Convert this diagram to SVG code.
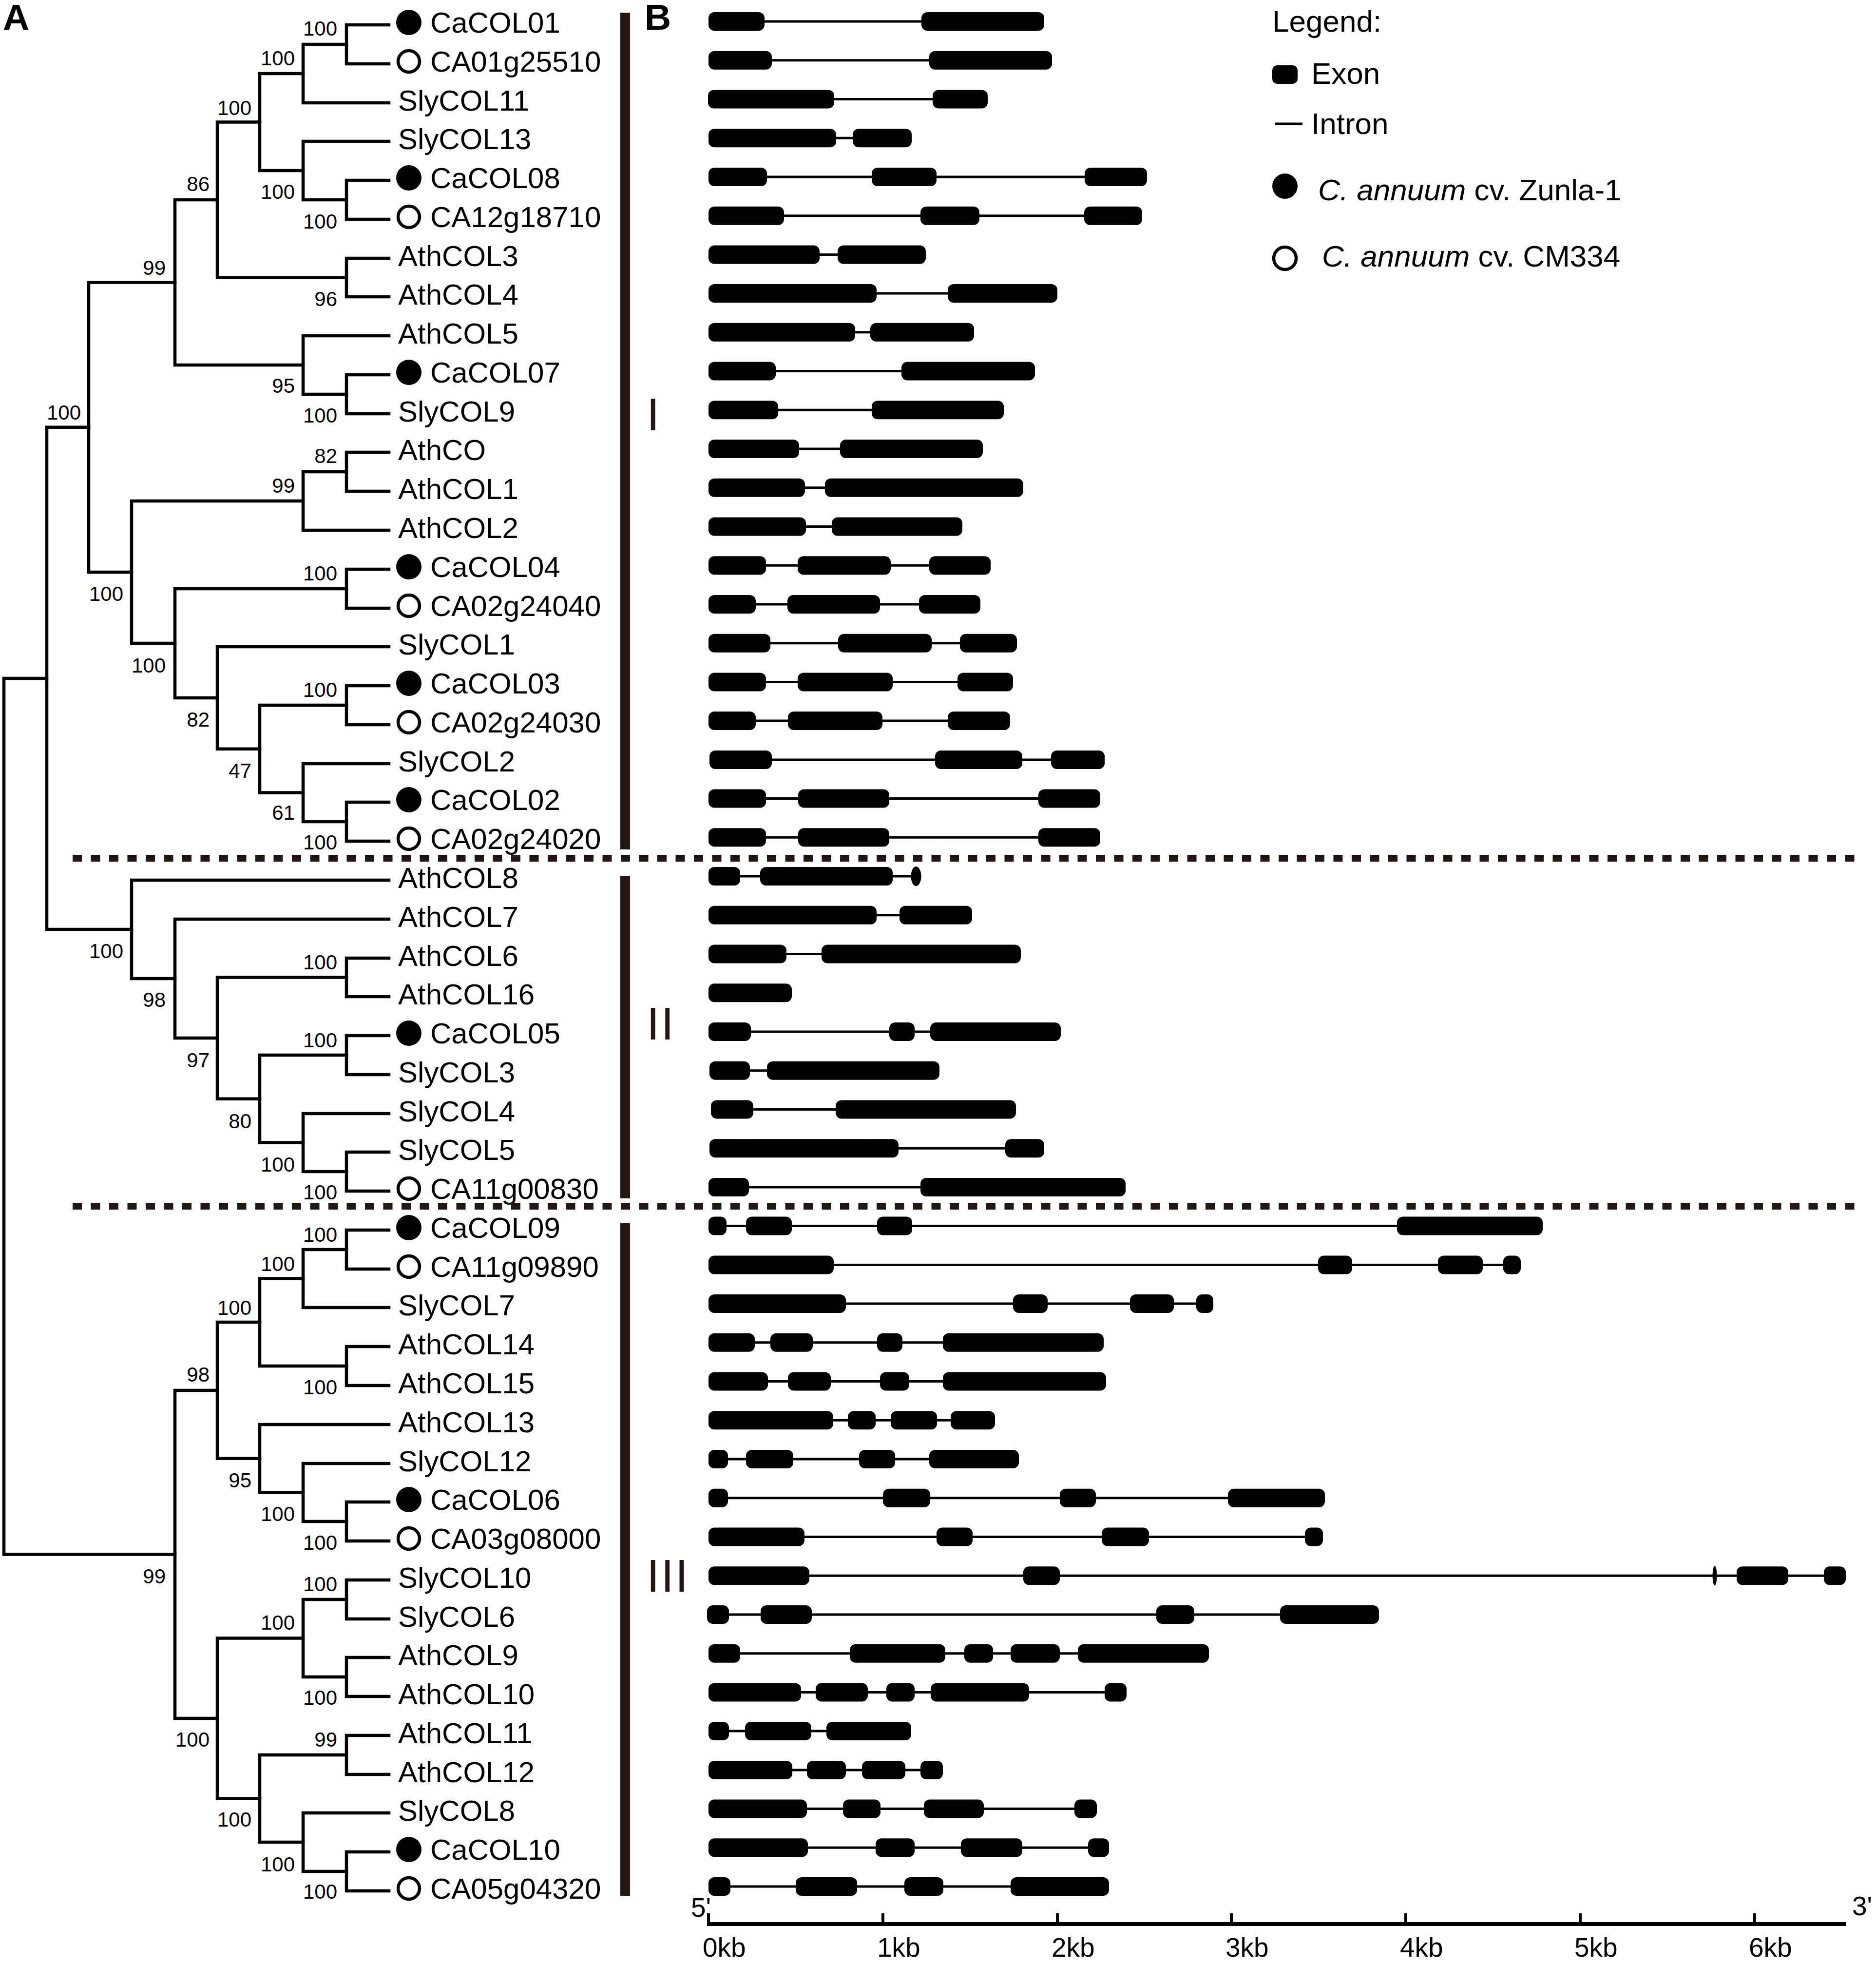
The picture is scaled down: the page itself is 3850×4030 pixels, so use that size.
<svg xmlns="http://www.w3.org/2000/svg" width="3850" height="4030" viewBox="0 0 3850 4030">
<style>
text{font-family:"Liberation Sans",Arial,sans-serif;fill:#000}
.lb{font-size:60px}
.bs{font-size:42px;text-anchor:end}
.br{fill:none;stroke:#000;stroke-width:6.5;stroke-linecap:square;stroke-linejoin:miter}
.f{fill:#000}
.o{fill:#fff;stroke:#000;stroke-width:6.5}
.ex{fill:#000}
.in{stroke:#000;stroke-width:5}
.dash{stroke:#231815;stroke-width:14;stroke-dasharray:19 18.5}
.bar{fill:#231815}
.rn{font-size:95px;letter-spacing:3px;fill:#231815}
.ax{stroke:#000;stroke-width:8}
.tick{stroke:#000;stroke-width:6;fill:none}
.tk{font-size:55px}
.lg{font-size:62px}
.it{font-style:italic}
.pl{font-size:75px;font-weight:bold}
</style>
<rect width="3850" height="4030" fill="#fff"/>
<text class="pl" x="6" y="61">A</text>
<text class="pl" x="1323" y="61">B</text>

<g id="connectors">
<path class="br" d="M798 51H711V131H798"/>
<path class="br" d="M711 91H622V211H798"/>
<path class="br" d="M798 370H711V450H798"/>
<path class="br" d="M798 290H622V410H711"/>
<path class="br" d="M622 151H533V350H622"/>
<path class="br" d="M798 530H711V609H798"/>
<path class="br" d="M533 250.5H446V569.5H711"/>
<path class="br" d="M798 769H711V849H798"/>
<path class="br" d="M798 689H622V809H711"/>
<path class="br" d="M446 410H359V749H622"/>
<path class="br" d="M798 928H711V1008H798"/>
<path class="br" d="M711 968H622V1088H798"/>
<path class="br" d="M798 1168H711V1248H798"/>
<path class="br" d="M798 1407H711V1487H798"/>
<path class="br" d="M798 1646H711V1726H798"/>
<path class="br" d="M798 1567H622V1686H711"/>
<path class="br" d="M711 1447H533V1626.5H622"/>
<path class="br" d="M798 1327H446V1536.75H533"/>
<path class="br" d="M711 1208H359V1432H446"/>
<path class="br" d="M622 1028H270V1320H359"/>
<path class="br" d="M359 579.5H182V1174H270"/>
<path class="br" d="M798 1966H711V2045H798"/>
<path class="br" d="M798 2125H711V2205H798"/>
<path class="br" d="M798 2364H711V2444H798"/>
<path class="br" d="M798 2285H622V2404H711"/>
<path class="br" d="M711 2165H533V2344.5H622"/>
<path class="br" d="M711 2005.5H446V2254.75H533"/>
<path class="br" d="M798 1886H359V2130H446"/>
<path class="br" d="M798 1806H270V2008H359"/>
<path class="br" d="M182 876.75H96V1907H270"/>
<path class="br" d="M798 2524H711V2604H798"/>
<path class="br" d="M711 2564H622V2683H798"/>
<path class="br" d="M798 2763H711V2843H798"/>
<path class="br" d="M622 2623.5H533V2803H711"/>
<path class="br" d="M798 3082H711V3162H798"/>
<path class="br" d="M798 3003H622V3122H711"/>
<path class="br" d="M798 2923H533V3062.5H622"/>
<path class="br" d="M533 2713H446V2992.75H533"/>
<path class="br" d="M798 3242H711V3322H798"/>
<path class="br" d="M798 3401H711V3481H798"/>
<path class="br" d="M711 3282H622V3441H711"/>
<path class="br" d="M798 3561H711V3641H798"/>
<path class="br" d="M798 3800H711V3880H798"/>
<path class="br" d="M798 3720H622V3840H711"/>
<path class="br" d="M711 3601H533V3780H622"/>
<path class="br" d="M622 3361.5H446V3690.5H533"/>
<path class="br" d="M446 2853H359V3526H446"/>
<path class="br" d="M96 1392H8V3189.5H359"/>
</g>

<g id="bootstrap">
<text class="bs" x="692" y="73">100</text>
<text class="bs" x="605" y="134">100</text>
<text class="bs" x="516" y="236">100</text>
<text class="bs" x="430" y="392">86</text>
<text class="bs" x="605" y="408">100</text>
<text class="bs" x="692" y="469">100</text>
<text class="bs" x="340" y="564">99</text>
<text class="bs" x="692" y="628">96</text>
<text class="bs" x="605" y="806">95</text>
<text class="bs" x="692" y="867">100</text>
<text class="bs" x="166" y="861">100</text>
<text class="bs" x="692" y="950">82</text>
<text class="bs" x="605" y="1011">99</text>
<text class="bs" x="253" y="1233">100</text>
<text class="bs" x="692" y="1191">100</text>
<text class="bs" x="340" y="1380">100</text>
<text class="bs" x="430" y="1491">82</text>
<text class="bs" x="516" y="1596">47</text>
<text class="bs" x="692" y="1430">100</text>
<text class="bs" x="605" y="1682">61</text>
<text class="bs" x="692" y="1743">100</text>
<text class="bs" x="253" y="1966">100</text>
<text class="bs" x="340" y="2066">98</text>
<text class="bs" x="692" y="1989">100</text>
<text class="bs" x="430" y="2190">97</text>
<text class="bs" x="516" y="2315">80</text>
<text class="bs" x="692" y="2149">100</text>
<text class="bs" x="605" y="2404">100</text>
<text class="bs" x="692" y="2461">100</text>
<text class="bs" x="692" y="2548">100</text>
<text class="bs" x="605" y="2608">100</text>
<text class="bs" x="516" y="2698">100</text>
<text class="bs" x="692" y="2861">100</text>
<text class="bs" x="430" y="2835">98</text>
<text class="bs" x="516" y="3052">95</text>
<text class="bs" x="605" y="3121">100</text>
<text class="bs" x="692" y="3180">100</text>
<text class="bs" x="340" y="3249">99</text>
<text class="bs" x="430" y="3584">100</text>
<text class="bs" x="605" y="3344">100</text>
<text class="bs" x="692" y="3265">100</text>
<text class="bs" x="692" y="3498">100</text>
<text class="bs" x="692" y="3584">99</text>
<text class="bs" x="516" y="3748">100</text>
<text class="bs" x="605" y="3840">100</text>
<text class="bs" x="692" y="3896">100</text>
</g>

<g id="leaves">
<g id="leaf-CaCOL01" transform="translate(0,51)"><circle class="f" cx="839" cy="-5" r="26"/><text class="lb" x="883" y="16">CaCOL01</text></g>
<g id="leaf-CA01g25510" transform="translate(0,131)"><circle class="o" cx="839" cy="-5" r="22"/><text class="lb" x="883" y="16">CA01g25510</text></g>
<g id="leaf-SlyCOL11" transform="translate(0,211)"><text class="lb" x="817" y="16">SlyCOL11</text></g>
<g id="leaf-SlyCOL13" transform="translate(0,290)"><text class="lb" x="817" y="16">SlyCOL13</text></g>
<g id="leaf-CaCOL08" transform="translate(0,370)"><circle class="f" cx="839" cy="-5" r="26"/><text class="lb" x="883" y="16">CaCOL08</text></g>
<g id="leaf-CA12g18710" transform="translate(0,450)"><circle class="o" cx="839" cy="-5" r="22"/><text class="lb" x="883" y="16">CA12g18710</text></g>
<g id="leaf-AthCOL3" transform="translate(0,530)"><text class="lb" x="817" y="16">AthCOL3</text></g>
<g id="leaf-AthCOL4" transform="translate(0,609)"><text class="lb" x="817" y="16">AthCOL4</text></g>
<g id="leaf-AthCOL5" transform="translate(0,689)"><text class="lb" x="817" y="16">AthCOL5</text></g>
<g id="leaf-CaCOL07" transform="translate(0,769)"><circle class="f" cx="839" cy="-5" r="26"/><text class="lb" x="883" y="16">CaCOL07</text></g>
<g id="leaf-SlyCOL9" transform="translate(0,849)"><text class="lb" x="817" y="16">SlyCOL9</text></g>
<g id="leaf-AthCO" transform="translate(0,928)"><text class="lb" x="817" y="16">AthCO</text></g>
<g id="leaf-AthCOL1" transform="translate(0,1008)"><text class="lb" x="817" y="16">AthCOL1</text></g>
<g id="leaf-AthCOL2" transform="translate(0,1088)"><text class="lb" x="817" y="16">AthCOL2</text></g>
<g id="leaf-CaCOL04" transform="translate(0,1168)"><circle class="f" cx="839" cy="-5" r="26"/><text class="lb" x="883" y="16">CaCOL04</text></g>
<g id="leaf-CA02g24040" transform="translate(0,1248)"><circle class="o" cx="839" cy="-5" r="22"/><text class="lb" x="883" y="16">CA02g24040</text></g>
<g id="leaf-SlyCOL1" transform="translate(0,1327)"><text class="lb" x="817" y="16">SlyCOL1</text></g>
<g id="leaf-CaCOL03" transform="translate(0,1407)"><circle class="f" cx="839" cy="-5" r="26"/><text class="lb" x="883" y="16">CaCOL03</text></g>
<g id="leaf-CA02g24030" transform="translate(0,1487)"><circle class="o" cx="839" cy="-5" r="22"/><text class="lb" x="883" y="16">CA02g24030</text></g>
<g id="leaf-SlyCOL2" transform="translate(0,1567)"><text class="lb" x="817" y="16">SlyCOL2</text></g>
<g id="leaf-CaCOL02" transform="translate(0,1646)"><circle class="f" cx="839" cy="-5" r="26"/><text class="lb" x="883" y="16">CaCOL02</text></g>
<g id="leaf-CA02g24020" transform="translate(0,1726)"><circle class="o" cx="839" cy="-5" r="22"/><text class="lb" x="883" y="16">CA02g24020</text></g>
<g id="leaf-AthCOL8" transform="translate(0,1806)"><text class="lb" x="817" y="16">AthCOL8</text></g>
<g id="leaf-AthCOL7" transform="translate(0,1886)"><text class="lb" x="817" y="16">AthCOL7</text></g>
<g id="leaf-AthCOL6" transform="translate(0,1966)"><text class="lb" x="817" y="16">AthCOL6</text></g>
<g id="leaf-AthCOL16" transform="translate(0,2045)"><text class="lb" x="817" y="16">AthCOL16</text></g>
<g id="leaf-CaCOL05" transform="translate(0,2125)"><circle class="f" cx="839" cy="-5" r="26"/><text class="lb" x="883" y="16">CaCOL05</text></g>
<g id="leaf-SlyCOL3" transform="translate(0,2205)"><text class="lb" x="817" y="16">SlyCOL3</text></g>
<g id="leaf-SlyCOL4" transform="translate(0,2285)"><text class="lb" x="817" y="16">SlyCOL4</text></g>
<g id="leaf-SlyCOL5" transform="translate(0,2364)"><text class="lb" x="817" y="16">SlyCOL5</text></g>
<g id="leaf-CA11g00830" transform="translate(0,2444)"><circle class="o" cx="839" cy="-5" r="22"/><text class="lb" x="883" y="16">CA11g00830</text></g>
<g id="leaf-CaCOL09" transform="translate(0,2524)"><circle class="f" cx="839" cy="-5" r="26"/><text class="lb" x="883" y="16">CaCOL09</text></g>
<g id="leaf-CA11g09890" transform="translate(0,2604)"><circle class="o" cx="839" cy="-5" r="22"/><text class="lb" x="883" y="16">CA11g09890</text></g>
<g id="leaf-SlyCOL7" transform="translate(0,2683)"><text class="lb" x="817" y="16">SlyCOL7</text></g>
<g id="leaf-AthCOL14" transform="translate(0,2763)"><text class="lb" x="817" y="16">AthCOL14</text></g>
<g id="leaf-AthCOL15" transform="translate(0,2843)"><text class="lb" x="817" y="16">AthCOL15</text></g>
<g id="leaf-AthCOL13" transform="translate(0,2923)"><text class="lb" x="817" y="16">AthCOL13</text></g>
<g id="leaf-SlyCOL12" transform="translate(0,3003)"><text class="lb" x="817" y="16">SlyCOL12</text></g>
<g id="leaf-CaCOL06" transform="translate(0,3082)"><circle class="f" cx="839" cy="-5" r="26"/><text class="lb" x="883" y="16">CaCOL06</text></g>
<g id="leaf-CA03g08000" transform="translate(0,3162)"><circle class="o" cx="839" cy="-5" r="22"/><text class="lb" x="883" y="16">CA03g08000</text></g>
<g id="leaf-SlyCOL10" transform="translate(0,3242)"><text class="lb" x="817" y="16">SlyCOL10</text></g>
<g id="leaf-SlyCOL6" transform="translate(0,3322)"><text class="lb" x="817" y="16">SlyCOL6</text></g>
<g id="leaf-AthCOL9" transform="translate(0,3401)"><text class="lb" x="817" y="16">AthCOL9</text></g>
<g id="leaf-AthCOL10" transform="translate(0,3481)"><text class="lb" x="817" y="16">AthCOL10</text></g>
<g id="leaf-AthCOL11" transform="translate(0,3561)"><text class="lb" x="817" y="16">AthCOL11</text></g>
<g id="leaf-AthCOL12" transform="translate(0,3641)"><text class="lb" x="817" y="16">AthCOL12</text></g>
<g id="leaf-SlyCOL8" transform="translate(0,3720)"><text class="lb" x="817" y="16">SlyCOL8</text></g>
<g id="leaf-CaCOL10" transform="translate(0,3800)"><circle class="f" cx="839" cy="-5" r="26"/><text class="lb" x="883" y="16">CaCOL10</text></g>
<g id="leaf-CA05g04320" transform="translate(0,3880)"><circle class="o" cx="839" cy="-5" r="22"/><text class="lb" x="883" y="16">CA05g04320</text></g>
</g>

<g id="clades">
<rect class="bar" x="1273" y="26" width="20" height="1717"/>
<rect class="bar" x="1273" y="1797" width="20" height="662"/>
<rect class="bar" x="1273" y="2510" width="20" height="1380"/>
<text class="rn" x="1327" y="883">I</text>
<text class="rn" x="1327" y="2133">II</text>
<text class="rn" x="1327" y="3266">III</text>
<line class="dash" x1="149" y1="1761" x2="3822" y2="1761"/>
<line class="dash" x1="149" y1="2475" x2="3822" y2="2475"/>
</g>

<g id="genes">
<g id="gene-CaCOL01" transform="translate(0,44)"><line class="in" x1="1454" x2="2143"/><rect class="ex" x="1454" y="-19" width="115" height="38" rx="12"/><rect class="ex" x="1891" y="-19" width="252" height="38" rx="12"/></g>
<g id="gene-CA01g25510" transform="translate(0,123.7)"><line class="in" x1="1454" x2="2159"/><rect class="ex" x="1454" y="-19" width="130" height="38" rx="12"/><rect class="ex" x="1907" y="-19" width="252" height="38" rx="12"/></g>
<g id="gene-SlyCOL11" transform="translate(0,203.5)"><line class="in" x1="1453" x2="2027"/><rect class="ex" x="1453" y="-19" width="259" height="38" rx="12"/><rect class="ex" x="1914" y="-19" width="113" height="38" rx="12"/></g>
<g id="gene-SlyCOL13" transform="translate(0,283.2)"><line class="in" x1="1454" x2="1871"/><rect class="ex" x="1454" y="-19" width="262" height="38" rx="12"/><rect class="ex" x="1750" y="-19" width="121" height="38" rx="12"/></g>
<g id="gene-CaCOL08" transform="translate(0,362.9)"><line class="in" x1="1454" x2="2354"/><rect class="ex" x="1454" y="-19" width="120" height="38" rx="12"/><rect class="ex" x="1789" y="-19" width="133" height="38" rx="12"/><rect class="ex" x="2226" y="-19" width="128" height="38" rx="12"/></g>
<g id="gene-CA12g18710" transform="translate(0,442.7)"><line class="in" x1="1454" x2="2344"/><rect class="ex" x="1454" y="-19" width="155" height="38" rx="12"/><rect class="ex" x="1889" y="-19" width="121" height="38" rx="12"/><rect class="ex" x="2225" y="-19" width="119" height="38" rx="12"/></g>
<g id="gene-AthCOL3" transform="translate(0,522.4)"><line class="in" x1="1454" x2="1900"/><rect class="ex" x="1454" y="-19" width="228" height="38" rx="12"/><rect class="ex" x="1719" y="-19" width="181" height="38" rx="12"/></g>
<g id="gene-AthCOL4" transform="translate(0,602.1)"><line class="in" x1="1454" x2="2170"/><rect class="ex" x="1454" y="-19" width="345" height="38" rx="12"/><rect class="ex" x="1945" y="-19" width="225" height="38" rx="12"/></g>
<g id="gene-AthCOL5" transform="translate(0,681.8)"><line class="in" x1="1454" x2="1999"/><rect class="ex" x="1454" y="-19" width="301" height="38" rx="12"/><rect class="ex" x="1786" y="-19" width="213" height="38" rx="12"/></g>
<g id="gene-CaCOL07" transform="translate(0,761.6)"><line class="in" x1="1454" x2="2124"/><rect class="ex" x="1454" y="-19" width="138" height="38" rx="12"/><rect class="ex" x="1850" y="-19" width="274" height="38" rx="12"/></g>
<g id="gene-SlyCOL9" transform="translate(0,841.3)"><line class="in" x1="1454" x2="2060"/><rect class="ex" x="1454" y="-19" width="143" height="38" rx="12"/><rect class="ex" x="1789" y="-19" width="271" height="38" rx="12"/></g>
<g id="gene-AthCO" transform="translate(0,921)"><line class="in" x1="1454" x2="2017"/><rect class="ex" x="1454" y="-19" width="186" height="38" rx="12"/><rect class="ex" x="1724" y="-19" width="293" height="38" rx="12"/></g>
<g id="gene-AthCOL1" transform="translate(0,1000.8)"><line class="in" x1="1454" x2="2100"/><rect class="ex" x="1454" y="-19" width="198" height="38" rx="12"/><rect class="ex" x="1693" y="-19" width="407" height="38" rx="12"/></g>
<g id="gene-AthCOL2" transform="translate(0,1080.5)"><line class="in" x1="1454" x2="1975"/><rect class="ex" x="1454" y="-19" width="200" height="38" rx="12"/><rect class="ex" x="1707" y="-19" width="268" height="38" rx="12"/></g>
<g id="gene-CaCOL04" transform="translate(0,1160.2)"><line class="in" x1="1454" x2="2033"/><rect class="ex" x="1454" y="-19" width="118" height="38" rx="12"/><rect class="ex" x="1637" y="-19" width="191" height="38" rx="12"/><rect class="ex" x="1907" y="-19" width="126" height="38" rx="12"/></g>
<g id="gene-CA02g24040" transform="translate(0,1240)"><line class="in" x1="1454" x2="2012"/><rect class="ex" x="1454" y="-19" width="97" height="38" rx="12"/><rect class="ex" x="1616" y="-19" width="190" height="38" rx="12"/><rect class="ex" x="1886" y="-19" width="126" height="38" rx="12"/></g>
<g id="gene-SlyCOL1" transform="translate(0,1319.7)"><line class="in" x1="1454" x2="2087"/><rect class="ex" x="1454" y="-19" width="127" height="38" rx="12"/><rect class="ex" x="1720" y="-19" width="192" height="38" rx="12"/><rect class="ex" x="1970" y="-19" width="117" height="38" rx="12"/></g>
<g id="gene-CaCOL03" transform="translate(0,1399.4)"><line class="in" x1="1454" x2="2079"/><rect class="ex" x="1454" y="-19" width="118" height="38" rx="12"/><rect class="ex" x="1637" y="-19" width="195" height="38" rx="12"/><rect class="ex" x="1965" y="-19" width="114" height="38" rx="12"/></g>
<g id="gene-CA02g24030" transform="translate(0,1479.1)"><line class="in" x1="1454" x2="2073"/><rect class="ex" x="1454" y="-19" width="97" height="38" rx="12"/><rect class="ex" x="1617" y="-19" width="194" height="38" rx="12"/><rect class="ex" x="1945" y="-19" width="128" height="38" rx="12"/></g>
<g id="gene-SlyCOL2" transform="translate(0,1558.9)"><line class="in" x1="1456" x2="2267"/><rect class="ex" x="1456" y="-19" width="128" height="38" rx="12"/><rect class="ex" x="1919" y="-19" width="179" height="38" rx="12"/><rect class="ex" x="2157" y="-19" width="110" height="38" rx="12"/></g>
<g id="gene-CaCOL02" transform="translate(0,1638.6)"><line class="in" x1="1454" x2="2258"/><rect class="ex" x="1454" y="-19" width="118" height="38" rx="12"/><rect class="ex" x="1638" y="-19" width="187" height="38" rx="12"/><rect class="ex" x="2131" y="-19" width="127" height="38" rx="12"/></g>
<g id="gene-CA02g24020" transform="translate(0,1718.3)"><line class="in" x1="1454" x2="2258"/><rect class="ex" x="1454" y="-19" width="118" height="38" rx="12"/><rect class="ex" x="1638" y="-19" width="187" height="38" rx="12"/><rect class="ex" x="2131" y="-19" width="127" height="38" rx="12"/></g>
<g id="gene-AthCOL8" transform="translate(0,1798.1)"><line class="in" x1="1454" x2="1880"/><rect class="ex" x="1454" y="-19" width="65" height="38" rx="12"/><rect class="ex" x="1560" y="-19" width="272" height="38" rx="12"/><ellipse class="ex" cx="1880" cy="0" rx="10.5" ry="20"/></g>
<g id="gene-AthCOL7" transform="translate(0,1877.8)"><line class="in" x1="1454" x2="1995"/><rect class="ex" x="1454" y="-19" width="345" height="38" rx="12"/><rect class="ex" x="1846" y="-19" width="149" height="38" rx="12"/></g>
<g id="gene-AthCOL6" transform="translate(0,1957.5)"><line class="in" x1="1454" x2="2095"/><rect class="ex" x="1454" y="-19" width="160" height="38" rx="12"/><rect class="ex" x="1686" y="-19" width="409" height="38" rx="12"/></g>
<g id="gene-AthCOL16" transform="translate(0,2037.3)"><rect class="ex" x="1454" y="-19" width="171" height="38" rx="12"/></g>
<g id="gene-CaCOL05" transform="translate(0,2117)"><line class="in" x1="1454" x2="2177"/><rect class="ex" x="1454" y="-19" width="87" height="38" rx="12"/><rect class="ex" x="1825" y="-19" width="52" height="38" rx="12"/><rect class="ex" x="1909" y="-19" width="268" height="38" rx="12"/></g>
<g id="gene-SlyCOL3" transform="translate(0,2196.7)"><line class="in" x1="1456" x2="1928"/><rect class="ex" x="1456" y="-19" width="83" height="38" rx="12"/><rect class="ex" x="1574" y="-19" width="354" height="38" rx="12"/></g>
<g id="gene-SlyCOL4" transform="translate(0,2276.4)"><line class="in" x1="1459" x2="2085"/><rect class="ex" x="1459" y="-19" width="87" height="38" rx="12"/><rect class="ex" x="1715" y="-19" width="370" height="38" rx="12"/></g>
<g id="gene-SlyCOL5" transform="translate(0,2356.2)"><line class="in" x1="1456" x2="2143"/><rect class="ex" x="1456" y="-19" width="388" height="38" rx="12"/><rect class="ex" x="2063" y="-19" width="80" height="38" rx="12"/></g>
<g id="gene-CA11g00830" transform="translate(0,2435.9)"><line class="in" x1="1454" x2="2310"/><rect class="ex" x="1454" y="-19" width="83" height="38" rx="12"/><rect class="ex" x="1889" y="-19" width="421" height="38" rx="12"/></g>
<g id="gene-CaCOL09" transform="translate(0,2515.6)"><line class="in" x1="1454" x2="3166"/><rect class="ex" x="1454" y="-19" width="37" height="38" rx="12"/><rect class="ex" x="1531" y="-19" width="94" height="38" rx="12"/><rect class="ex" x="1800" y="-19" width="72" height="38" rx="12"/><rect class="ex" x="2867" y="-19" width="299" height="38" rx="12"/></g>
<g id="gene-CA11g09890" transform="translate(0,2595.4)"><line class="in" x1="1454" x2="3121"/><rect class="ex" x="1454" y="-19" width="257" height="38" rx="12"/><rect class="ex" x="2705" y="-19" width="70" height="38" rx="12"/><rect class="ex" x="2951" y="-19" width="92" height="38" rx="12"/><rect class="ex" x="3085" y="-19" width="36" height="38" rx="12"/></g>
<g id="gene-SlyCOL7" transform="translate(0,2675.1)"><line class="in" x1="1454" x2="2490"/><rect class="ex" x="1454" y="-19" width="282" height="38" rx="12"/><rect class="ex" x="2079" y="-19" width="71" height="38" rx="12"/><rect class="ex" x="2319" y="-19" width="90" height="38" rx="12"/><rect class="ex" x="2455" y="-19" width="35" height="38" rx="12"/></g>
<g id="gene-AthCOL14" transform="translate(0,2754.8)"><line class="in" x1="1454" x2="2265"/><rect class="ex" x="1454" y="-19" width="95" height="38" rx="12"/><rect class="ex" x="1581" y="-19" width="87" height="38" rx="12"/><rect class="ex" x="1800" y="-19" width="52" height="38" rx="12"/><rect class="ex" x="1935" y="-19" width="330" height="38" rx="12"/></g>
<g id="gene-AthCOL15" transform="translate(0,2834.6)"><line class="in" x1="1454" x2="2270"/><rect class="ex" x="1454" y="-19" width="122" height="38" rx="12"/><rect class="ex" x="1617" y="-19" width="88" height="38" rx="12"/><rect class="ex" x="1806" y="-19" width="60" height="38" rx="12"/><rect class="ex" x="1935" y="-19" width="335" height="38" rx="12"/></g>
<g id="gene-AthCOL13" transform="translate(0,2914.3)"><line class="in" x1="1454" x2="2042"/><rect class="ex" x="1454" y="-19" width="256" height="38" rx="12"/><rect class="ex" x="1740" y="-19" width="57" height="38" rx="12"/><rect class="ex" x="1828" y="-19" width="95" height="38" rx="12"/><rect class="ex" x="1951" y="-19" width="91" height="38" rx="12"/></g>
<g id="gene-SlyCOL12" transform="translate(0,2994)"><line class="in" x1="1454" x2="2091"/><rect class="ex" x="1454" y="-19" width="40" height="38" rx="12"/><rect class="ex" x="1531" y="-19" width="97" height="38" rx="12"/><rect class="ex" x="1763" y="-19" width="74" height="38" rx="12"/><rect class="ex" x="1907" y="-19" width="184" height="38" rx="12"/></g>
<g id="gene-CaCOL06" transform="translate(0,3073.7)"><line class="in" x1="1454" x2="2719"/><rect class="ex" x="1454" y="-19" width="40" height="38" rx="12"/><rect class="ex" x="1812" y="-19" width="97" height="38" rx="12"/><rect class="ex" x="2175" y="-19" width="74" height="38" rx="12"/><rect class="ex" x="2520" y="-19" width="199" height="38" rx="12"/></g>
<g id="gene-CA03g08000" transform="translate(0,3153.5)"><line class="in" x1="1454" x2="2715"/><rect class="ex" x="1454" y="-19" width="197" height="38" rx="12"/><rect class="ex" x="1922" y="-19" width="74" height="38" rx="12"/><rect class="ex" x="2261" y="-19" width="97" height="38" rx="12"/><rect class="ex" x="2678" y="-19" width="37" height="38" rx="12"/></g>
<g id="gene-SlyCOL10" transform="translate(0,3233.2)"><line class="in" x1="1454" x2="3788"/><rect class="ex" x="1454" y="-19" width="207" height="38" rx="12"/><rect class="ex" x="2100" y="-19" width="75" height="38" rx="12"/><ellipse class="ex" cx="3519" cy="0" rx="4.5" ry="20"/><rect class="ex" x="3564" y="-19" width="106" height="38" rx="12"/><rect class="ex" x="3743" y="-19" width="45" height="38" rx="12"/></g>
<g id="gene-SlyCOL6" transform="translate(0,3312.9)"><line class="in" x1="1451" x2="2830"/><rect class="ex" x="1451" y="-19" width="45" height="38" rx="12"/><rect class="ex" x="1561" y="-19" width="105" height="38" rx="12"/><rect class="ex" x="2373" y="-19" width="78" height="38" rx="12"/><rect class="ex" x="2627" y="-19" width="203" height="38" rx="12"/></g>
<g id="gene-AthCOL9" transform="translate(0,3392.7)"><line class="in" x1="1454" x2="2481"/><rect class="ex" x="1454" y="-19" width="65" height="38" rx="12"/><rect class="ex" x="1744" y="-19" width="196" height="38" rx="12"/><rect class="ex" x="1979" y="-19" width="59" height="38" rx="12"/><rect class="ex" x="2074" y="-19" width="101" height="38" rx="12"/><rect class="ex" x="2212" y="-19" width="269" height="38" rx="12"/></g>
<g id="gene-AthCOL10" transform="translate(0,3472.4)"><line class="in" x1="1454" x2="2312"/><rect class="ex" x="1454" y="-19" width="190" height="38" rx="12"/><rect class="ex" x="1674" y="-19" width="107" height="38" rx="12"/><rect class="ex" x="1819" y="-19" width="58" height="38" rx="12"/><rect class="ex" x="1910" y="-19" width="202" height="38" rx="12"/><rect class="ex" x="2267" y="-19" width="45" height="38" rx="12"/></g>
<g id="gene-AthCOL11" transform="translate(0,3552.1)"><line class="in" x1="1454" x2="1870"/><rect class="ex" x="1454" y="-19" width="42" height="38" rx="12"/><rect class="ex" x="1529" y="-19" width="136" height="38" rx="12"/><rect class="ex" x="1696" y="-19" width="174" height="38" rx="12"/></g>
<g id="gene-AthCOL12" transform="translate(0,3631.9)"><line class="in" x1="1454" x2="1935"/><rect class="ex" x="1454" y="-19" width="172" height="38" rx="12"/><rect class="ex" x="1656" y="-19" width="80" height="38" rx="12"/><rect class="ex" x="1769" y="-19" width="89" height="38" rx="12"/><rect class="ex" x="1889" y="-19" width="46" height="38" rx="12"/></g>
<g id="gene-SlyCOL8" transform="translate(0,3711.6)"><line class="in" x1="1454" x2="2251"/><rect class="ex" x="1454" y="-19" width="202" height="38" rx="12"/><rect class="ex" x="1730" y="-19" width="77" height="38" rx="12"/><rect class="ex" x="1896" y="-19" width="123" height="38" rx="12"/><rect class="ex" x="2205" y="-19" width="46" height="38" rx="12"/></g>
<g id="gene-CaCOL10" transform="translate(0,3791.3)"><line class="in" x1="1454" x2="2276"/><rect class="ex" x="1454" y="-19" width="204" height="38" rx="12"/><rect class="ex" x="1797" y="-19" width="80" height="38" rx="12"/><rect class="ex" x="1972" y="-19" width="126" height="38" rx="12"/><rect class="ex" x="2233" y="-19" width="43" height="38" rx="12"/></g>
<g id="gene-CA05g04320" transform="translate(0,3871)"><line class="in" x1="1454" x2="2276"/><rect class="ex" x="1454" y="-19" width="45" height="38" rx="12"/><rect class="ex" x="1633" y="-19" width="126" height="38" rx="12"/><rect class="ex" x="1856" y="-19" width="80" height="38" rx="12"/><rect class="ex" x="2074" y="-19" width="202" height="38" rx="12"/></g>
</g>

<g id="axis">
<line class="ax" x1="1451" y1="3948" x2="3788" y2="3948"/>
<path class="tick" d="M1454 3926V3948M1812 3926V3948M2170 3926V3948M2527 3926V3948M2885 3926V3948M3243 3926V3948M3601 3926V3948"/>
<text class="tk" x="1418" y="3933">5'</text>
<text class="tk" x="3801" y="3930">3'</text>
<text class="tk" x="1442" y="4015">0kb</text>
<text class="tk" x="1800" y="4015">1kb</text>
<text class="tk" x="2158" y="4015">2kb</text>
<text class="tk" x="2515" y="4015">3kb</text>
<text class="tk" x="2873" y="4015">4kb</text>
<text class="tk" x="3231" y="4015">5kb</text>
<text class="tk" x="3589" y="4015">6kb</text>
</g>

<g id="legend">
<text class="lg" x="2611" y="65">Legend:</text>
<rect class="ex" x="2611" y="134" width="52" height="38" rx="10"/>
<text class="lg" x="2691" y="172">Exon</text>
<line class="in" x1="2617" y1="254" x2="2673" y2="254"/>
<text class="lg" x="2691" y="275">Intron</text>
<circle class="f" cx="2637" cy="382" r="26"/>
<text class="lg" x="2705" y="411"><tspan class="it">C. annuum</tspan> cv. Zunla-1</text>
<circle class="o" cx="2637" cy="530" r="23"/>
<text class="lg" x="2713" y="547"><tspan class="it">C. annuum</tspan> cv. CM334</text>
</g>
</svg>
